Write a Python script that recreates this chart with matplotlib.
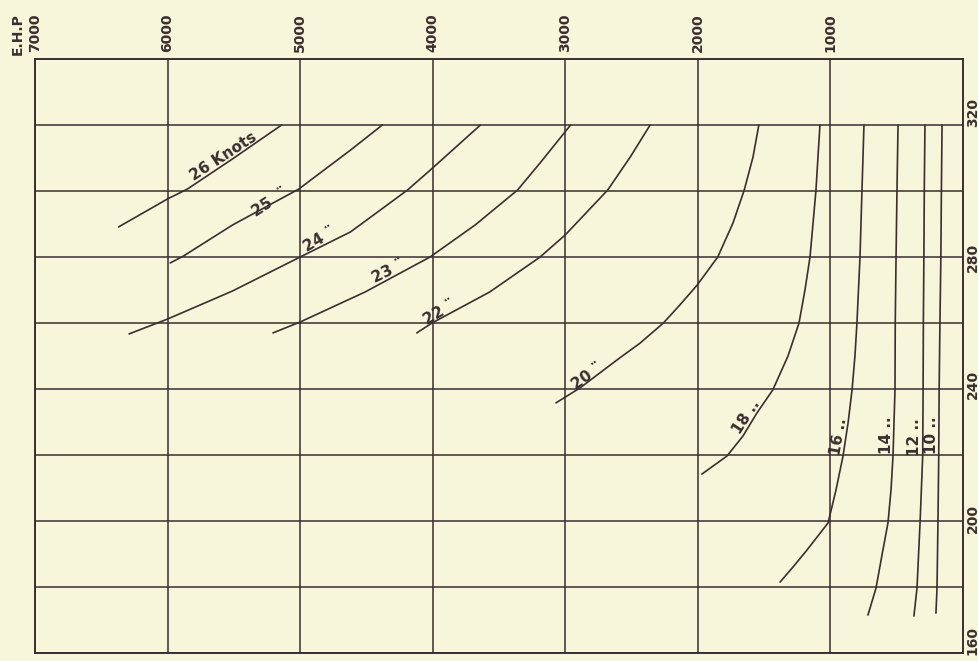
import numpy as np
import matplotlib
matplotlib.use("Agg")
import matplotlib.pyplot as plt
import matplotlib.transforms as mtransforms

# E.H.P. against length (ft) for speeds of 10 to 26 knots
ehp_26 = [6370, 6000, 5850, 5500, 5140]
len_26 = [289.1, 297.6, 300.6, 310.0, 320]

ehp_25 = [5980, 5880, 5510, 5010, 4620, 4380]
len_25 = [278.2, 280.3, 289.7, 300.6, 312.4, 320]

ehp_24 = [6290, 6000, 5510, 5000, 4620, 4190, 4000, 3640]
len_24 = [256.7, 261.2, 269.7, 280, 287.6, 300.3, 307.0, 320]

ehp_23 = [5205, 5000, 4510, 4020, 3680, 3360, 3190, 2960]
len_23 = [257.0, 260.3, 269.4, 280, 289.7, 300.3, 308.5, 320]

ehp_22 = [4120, 4005, 3570, 3190, 3000, 2680, 2510, 2360]
len_22 = [257.0, 260.0, 269.4, 280, 286.7, 300.3, 310.3, 320]

ehp_20 = [3070, 2890, 2590, 2436, 2260, 2135, 2005, 1850, 1735, 1650, 1584, 1540]
len_20 = [235.8, 240.3, 249.4, 253.9, 260, 265.5, 271.5, 280, 290.3, 300.3, 310.3, 320]

ehp_18 = [1970, 1780, 1659, 1555, 1435, 1320, 1237, 1192, 1154, 1131, 1109, 1094, 1079]
len_18 = [214.2, 219.7, 225.8, 232.7, 239.7, 250, 260, 270, 280, 290.3, 300.3, 310.3, 320]

ehp_16 = [1380, 1275, 1177, 1018, 958, 905, 867, 837, 815, 800, 777, 762, 747]
len_16 = [181.5, 186.4, 191.2, 199.4, 209.4, 219.7, 229.7, 239.7, 250, 260, 280, 300.3, 320]

ehp_14 = [717, 656, 611, 566, 543, 528, 513, 511, 505, 498, 490]
len_14 = [171.5, 179.7, 189.7, 199.4, 209.4, 219.7, 239.7, 260, 280, 300.3, 320]

ehp_12 = [370, 347, 324, 304, 301, 299, 295, 292, 287]
len_12 = [171.2, 179.7, 199.4, 219.7, 239.7, 260, 280, 300.3, 320]

ehp_10 = [204, 196, 189, 183, 180, 174, 167, 163, 158]
len_10 = [172.1, 179.7, 199.4, 219.7, 239.7, 260, 280, 300.3, 320]

# curve labels: text, E.H.P., length, angle
label_text = ["26 Knots", "25  \u00a8", "24 \u00a8", "23 \u00a8", "22 \u00a8", "20 \u00a8",
              "18 ..", "16 ..", "14 ..", "12 ..", "10 .."]
label_ehp = [5582, 5227, 4850, 4337, 3945, 2836, 1637, 940, 580, 368, 240]
label_len = [310.6, 296.4, 285.2, 275.5, 263.3, 243.9, 231.5, 225.5, 226, 225.5, 226]
label_rot = [33, 33, 30, 26, 30, 35, 57, 80, 90, 90, 90]

ehp_ticks = [7000, 6000, 5000, 4000, 3000, 2000, 1000]
len_ticks = [160, 200, 240, 280, 320]

bg = "#f7f5da"
ink = "#3a2e30"

fig = plt.figure(figsize=(9.79, 6.61), dpi=100, facecolor=bg)
ax = fig.add_axes([35 / 979, 8 / 661, 928 / 979, 594 / 661])
ax.set_facecolor(bg)

curves = [(ehp_26, len_26), (ehp_25, len_25), (ehp_24, len_24), (ehp_23, len_23),
          (ehp_22, len_22), (ehp_20, len_20), (ehp_18, len_18), (ehp_16, len_16),
          (ehp_14, len_14), (ehp_12, len_12), (ehp_10, len_10)]
for xs, ys in curves:
    ax.plot(xs, ys, color=ink, lw=1.2, solid_capstyle="round",
            solid_joinstyle="round", zorder=3)

for t, x, y, r in zip(label_text, label_ehp, label_len, label_rot):
    ax.text(x, y, t, rotation=r, rotation_mode="anchor", ha="center", va="center",
            fontsize=11, fontweight="bold", color=ink, zorder=4)

ax.set_xlim(7000, 0)
ax.set_ylim(160, 340)

ax.xaxis.tick_top()
ax.set_xticks(ehp_ticks)
ax.set_xticklabels([str(v) for v in ehp_ticks])
ax.yaxis.tick_right()
ax.set_yticks(len_ticks)
ax.set_yticklabels([str(v) for v in len_ticks])
ax.set_yticks(np.arange(180, 340, 40), minor=True)

ax.tick_params(axis="x", length=0, pad=5, labelrotation=90, labelsize=10, colors=ink)
ax.tick_params(axis="y", which="both", length=0, pad=2, labelsize=10, colors=ink)
# labels on the right sit a little above their lines
shift_pts = [9, 2, 3, 0, 9]
for lab, dy in zip(ax.get_yticklabels(), shift_pts):
    lab.set_rotation(90)
    lab.set_va("center")
    lab.set_transform(lab.get_transform() +
                      mtransforms.ScaledTranslation(0, dy / 72, fig.dpi_scale_trans))
for lab in ax.get_xticklabels() + ax.get_yticklabels():
    lab.set_fontweight("bold")

ax.grid(True, which="both", color=ink, lw=1.1)
ax.set_axisbelow(True)
for s in ax.spines.values():
    s.set_color(ink)
    s.set_linewidth(1.4)

fig.text(18 / 979, 1 - 55 / 661, "E.H.P", rotation=90, ha="center", va="bottom",
         fontsize=10, fontweight="bold", color=ink)

fig.savefig("out.png", dpi=100, facecolor=bg)
